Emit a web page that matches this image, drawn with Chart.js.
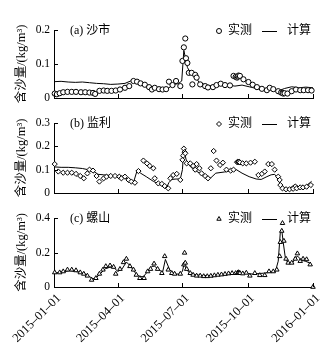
<!DOCTYPE html>
<html>
<head>
<meta charset="utf-8">
<script src="https://cdn.jsdelivr.net/npm/chart.js@4.4.0/dist/chart.umd.min.js"></script>
<style>
body { margin: 0; background: #fff; width: 330px; height: 349px; position: relative; overflow: hidden; }
canvas { position: absolute; left: 0; }
</style>
</head>
<body>
<canvas id="cA" width="330" height="110" style="top:0px"></canvas>
<canvas id="cB" width="330" height="95" style="top:110px"></canvas>
<canvas id="cC" width="330" height="144" style="top:205px"></canvas>
<script>
// x axis: days since 2015-01-01
const tickDays = [0, 90, 181, 273, 365];
const tickLabels = ['2015–01–01', '2015–04–01', '2015–07–01', '2015–10–01', '2016–01–01'];

// (a) 沙市
const shashiObsDay = [1,4,8,13,19,25,31,38,44,50, 55,58,64,70,75,81,87,93,100,106,
  112,117,122,128,134,138,142,148,153,158, 162,167,172,178,181,183,185,186,188,190,
  194,195,199,201,206,213,217,224,229,235, 241,248,253,256,258,259,260,262,267,274,
  280,286,293,300,304,309,316,320,322,323, 325,329,335,341,347,352,358,363];
const shashiObsVal = [0.013,0.011,0.014,0.017,0.018,0.018,0.018,0.017,0.017,0.016,
  0.015,0.012,0.021,0.022,0.021,0.021,0.022,0.025,0.030,0.035,
  0.050,0.048,0.043,0.039,0.032,0.025,0.030,0.026,0.025,0.026,
  0.048,0.038,0.050,0.035,0.109,0.149,0.175,0.117,0.103,0.074,
  0.074,0.040,0.068,0.060,0.040,0.035,0.031,0.032,0.038,0.042,
  0.038,0.037,0.065,0.062,0.060,0.063,0.066,0.065,0.055,0.047,
  0.039,0.032,0.027,0.023,0.030,0.026,0.020,0.016,0.015,0.013,
  0.014,0.013,0.020,0.025,0.023,0.023,0.023,0.022];
const shashiCalDay = [0,10,20,30,40,50,60,70,80,90, 100,108,115,125,135,145,155,162,168,175,
  180,183,185,188,192,198,205,215,225,235, 245,255,265,275,285,295,305,315,325,335, 345,355,365];
const shashiCalVal = [0.048,0.049,0.047,0.046,0.047,0.045,0.043,0.042,0.040,0.041,
  0.043,0.050,0.048,0.040,0.033,0.028,0.026,0.030,0.040,0.042,
  0.050,0.140,0.120,0.090,0.075,0.065,0.045,0.038,0.035,0.040,
  0.038,0.035,0.038,0.033,0.028,0.026,0.025,0.020,0.028,0.033,
  0.030,0.032,0.030];

// (b) 监利
const jianliObsDay = [1,6,13,19,25,31,37,42,47,50, 55,60,64,70,74,80,86,92,95,100,
  105,109,114,119,126,131,135,140,142,147, 152,156,161,164,168,173,178,181,182,183,
  184,185,187,192,196,199,201,205,208,213, 217,221,225,229,234,238,243,249,253,258,
  259,260,261,262,266,271,277,283,288,293, 297,302,307,311,316,318,319,322,327,332,
  337,342,347,351,356,362];
const jianliObsVal = [0.124,0.092,0.087,0.087,0.087,0.082,0.073,0.063,0.084,0.100,
  0.096,0.073,0.049,0.063,0.070,0.073,0.073,0.070,0.063,0.070,
  0.056,0.049,0.044,0.094,0.139,0.127,0.116,0.106,0.063,0.041,
  0.039,0.030,0.020,0.063,0.077,0.082,0.056,0.142,0.160,0.190,
  0.175,0.170,0.127,0.127,0.116,0.100,0.124,0.106,0.084,0.073,
  0.063,0.106,0.180,0.139,0.120,0.130,0.100,0.096,0.100,0.132,
  0.134,0.133,0.134,0.131,0.127,0.127,0.130,0.134,0.077,0.082,
  0.092,0.124,0.124,0.100,0.070,0.056,0.034,0.020,0.016,0.016,
  0.018,0.020,0.024,0.024,0.027,0.034];
const jianliCalDay = [0,10,20,30,40,48,55,62,70,80, 90,100,106,112,117,122,130,140,150,158,
  162,166,172,178,181,183,186,190,195,200, 208,215,221,228,240,250,257,265,275,285,
  292,300,306,311,315,319,323,332,340,347, 355,363];
const jianliCalVal = [0.112,0.110,0.110,0.108,0.105,0.100,0.095,0.080,0.078,0.075,
  0.075,0.070,0.050,0.045,0.095,0.085,0.070,0.050,0.035,0.020,
  0.045,0.058,0.060,0.060,0.100,0.190,0.145,0.120,0.105,0.095,
  0.080,0.065,0.065,0.085,0.090,0.095,0.100,0.085,0.070,0.060,
  0.058,0.070,0.078,0.080,0.065,0.035,0.020,0.020,0.038,0.022,
  0.030,0.050];

// (c) 螺山
const luoshanObsDay = [1,8,13,19,25,31,37,42,47,53, 59,64,69,73,79,84,87,93,98,102,
  107,112,116,121,127,132,136,141,146,152, 156,161,166,170,178,184,183,185,187,192,
  196,201,206,211,216,221,226,231,236,241, 246,251,256,259,260,261,262,266,271,276,
  283,290,297,303,309,314,318,319,321,322, 324,327,330,335,340,343,347,351,356,361, 365];
const luoshanObsVal = [0.084,0.084,0.090,0.100,0.100,0.096,0.084,0.076,0.065,0.041,
  0.051,0.076,0.100,0.120,0.124,0.116,0.076,0.104,0.143,0.163,
  0.120,0.100,0.070,0.051,0.051,0.090,0.104,0.135,0.104,0.080,
  0.178,0.100,0.080,0.076,0.076,0.198,0.130,0.140,0.104,0.080,
  0.070,0.065,0.065,0.062,0.062,0.064,0.067,0.070,0.072,0.075,
  0.078,0.080,0.080,0.083,0.085,0.082,0.080,0.078,0.082,0.065,
  0.080,0.068,0.068,0.090,0.090,0.100,0.178,0.260,0.325,0.370,
  0.267,0.163,0.140,0.140,0.163,0.194,0.150,0.163,0.160,0.130,
  0.000];
const luoshanCalDay = [0,8,15,22,30,37,44,50,55,60, 66,72,79,85,90,96,102,108,114,120,
  126,132,138,142,148,153,157,163,170,176, 181,183,186,190,196,205,220,240,255,265,
  280,295,305,312,316,319,321,323,326,330, 336,343,349,354,360,363];
const luoshanCalVal = [0.080,0.085,0.090,0.095,0.090,0.085,0.075,0.060,0.048,0.055,
  0.080,0.105,0.115,0.110,0.090,0.105,0.145,0.120,0.085,0.060,
  0.060,0.090,0.120,0.120,0.100,0.085,0.160,0.100,0.075,0.075,
  0.090,0.130,0.110,0.085,0.075,0.068,0.065,0.070,0.080,0.080,
  0.075,0.080,0.085,0.090,0.150,0.320,0.330,0.260,0.170,0.135,
  0.140,0.180,0.155,0.150,0.140,0.125];

const serif = "'Liberation Serif', 'Noto Sans CJK SC', serif";

function zip(d, v) {
  return d.map((x, i) => ({ x: x, y: v[i] }));
}

// panel label, legend and inward ticks on both axes
const panelText = {
  id: 'panelText',
  afterDraw(chart, args, o) {
    const ctx = chart.ctx, a = chart.chartArea, xs = chart.scales.x, ys = chart.scales.y;
    ctx.save();
    ctx.strokeStyle = '#000';
    ctx.lineWidth = 1;
    tickDays.forEach(d => {
      const px = Math.round(xs.getPixelForValue(d)) + 0.5;
      ctx.beginPath();
      ctx.moveTo(px, a.bottom);
      ctx.lineTo(px, a.bottom - 4);
      ctx.stroke();
    });
    o.yTicks.forEach(v => {
      const py = Math.round(ys.getPixelForValue(v)) + 0.5;
      ctx.beginPath();
      ctx.moveTo(a.left, py);
      ctx.lineTo(a.left + 4, py);
      ctx.stroke();
    });
    const y = a.top + 1;
    ctx.fillStyle = '#000';
    ctx.textBaseline = 'middle';
    ctx.textAlign = 'left';
    ctx.font = '12px ' + serif;
    ctx.fillText(o.label, a.left + 16, y);
    ctx.fillText('实测', a.right - 85, y);
    ctx.fillText('计算', a.right - 26, y);
    ctx.beginPath();
    ctx.moveTo(a.right - 51, y + 0.5);
    ctx.lineTo(a.right - 36, y + 0.5);
    ctx.stroke();
    ctx.fillStyle = '#fff';
    Chart.helpers.drawPoint(ctx, { pointStyle: o.marker, radius: 2.5, borderWidth: 1, rotation: 0 }, a.right - 94, y);
    ctx.restore();
  }
};

function makePanel(id, p) {
  return new Chart(document.getElementById(id), {
    type: 'line',
    data: {
      datasets: [{
        label: '实测',
        data: zip(p.obsDay, p.obsVal),
        showLine: false,
        pointStyle: p.marker,
        pointRadius: 2.6,
        pointBorderWidth: 1,
        pointBorderColor: '#000',
        pointBackgroundColor: '#fff',
        clip: 6,
        order: 0
      }, {
        label: '计算',
        data: zip(p.calDay, p.calVal),
        borderColor: '#000',
        borderWidth: 1,
        pointRadius: 0,
        tension: 0,
        order: 1
      }]
    },
    options: {
      responsive: false,
      animation: false,
      layout: { padding: { top: p.padTop, right: 17, left: 0, bottom: 0 } },
      plugins: {
        legend: { display: false },
        tooltip: { enabled: false },
        panelText: { label: p.label, marker: p.marker, yTicks: p.yTicks }
      },
      scales: {
        x: {
          type: 'linear',
          min: 0,
          max: 365,
          afterBuildTicks: s => { s.ticks = tickDays.map(v => ({ value: v })); },
          afterFit: s => { s.height = p.xh; },
          border: { color: '#000', width: 1 },
          grid: { display: true, drawOnChartArea: false, drawTicks: false },
          ticks: {
            display: p.showX,
            color: '#000',
            font: { family: serif, size: 12.5 },
            minRotation: 45,
            maxRotation: 45,
            autoSkip: false,
            padding: 4,
            labelOffset: 5,
            callback: (v, i) => tickLabels[i]
          }
        },
        y: {
          min: 0,
          max: p.yMax,
          afterBuildTicks: s => { s.ticks = p.yTicks.map(v => ({ value: v })); },
          afterFit: s => { s.width = 54; },
          border: { color: '#000', width: 1 },
          grid: { display: true, drawOnChartArea: false, drawTicks: false },
          ticks: {
            color: '#000',
            font: { family: serif, size: 11.5 },
            padding: 4,
            callback: v => v === 0 ? '0' : v.toFixed(1)
          },
          title: {
            display: true,
            text: '含沙量/(kg/m³)',
            color: '#000',
            font: { family: serif, size: 12.5 },
            padding: { top: 14, bottom: 0 }
          }
        }
      }
    },
    plugins: [panelText]
  });
}

function drawAll() {
  makePanel('cA', {
    label: '(a) 沙市', marker: 'circle',
    obsDay: shashiObsDay, obsVal: shashiObsVal, calDay: shashiCalDay, calVal: shashiCalVal,
    yMax: 0.2, yTicks: [0, 0.1, 0.2], padTop: 30, xh: 12, showX: false
  });
  makePanel('cB', {
    label: '(b) 监利', marker: 'rectRot',
    obsDay: jianliObsDay, obsVal: jianliObsVal, calDay: jianliCalDay, calVal: jianliCalVal,
    yMax: 0.3, yTicks: [0, 0.1, 0.2, 0.3], padTop: 13, xh: 12, showX: false
  });
  makePanel('cC', {
    label: '(c) 螺山', marker: 'triangle',
    obsDay: luoshanObsDay, obsVal: luoshanObsVal, calDay: luoshanCalDay, calVal: luoshanCalVal,
    yMax: 0.4, yTicks: [0, 0.2, 0.4], padTop: 13, xh: 62, showX: true
  });
}

Promise.all([
  document.fonts.load('12px "Liberation Serif"'),
  document.fonts.load('12px "Noto Sans CJK SC"', '含沙量')
]).then(drawAll, drawAll);
</script>
</body>
</html>
